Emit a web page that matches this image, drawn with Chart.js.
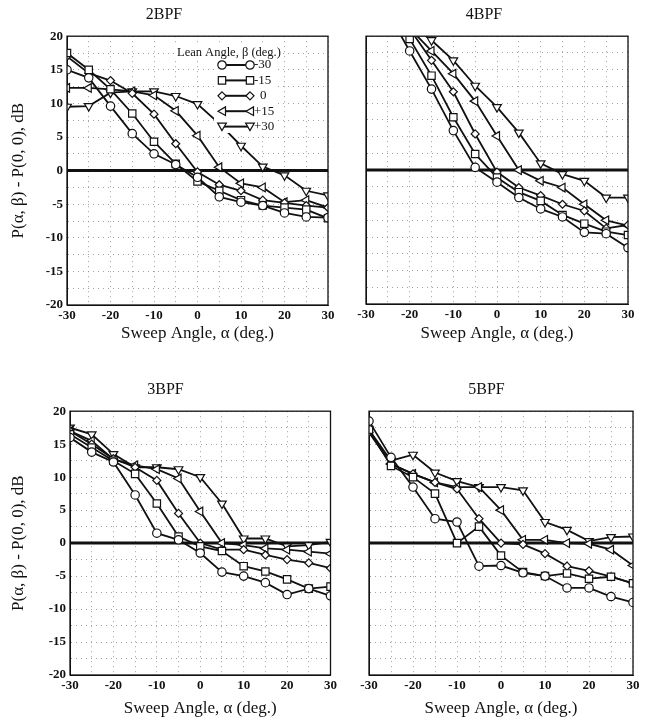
<!DOCTYPE html>
<html>
<head>
<meta charset="utf-8">
<script src="https://cdn.jsdelivr.net/npm/chart.js"></script>
<style>
  body { margin: 0; background: #fff; width: 647px; height: 720px; position: relative; overflow: hidden; }
  canvas { position: absolute; }
</style>
</head>
<body>
<canvas id="bpf2" width="340" height="345" style="left:0;top:0"></canvas>
<canvas id="bpf4" width="307" height="345" style="left:340px;top:0"></canvas>
<canvas id="bpf3" width="340" height="345" style="left:0;top:375px"></canvas>
<canvas id="bpf5" width="307" height="345" style="left:340px;top:375px"></canvas>
<script>
// sweep angle alpha (deg.) and lean angle beta (deg.)
const sweep = [-30, -25, -20, -15, -10, -5, 0, 5, 10, 15, 20, 25, 30];
const leanLabels = ['-30', '-15', '0', '+15', '+30'];

// 2BPF
const bpf2M30 = [15.0, 13.8, 9.6, 5.5, 2.5, 0.9, -1.0, -3.9, -4.7, -5.2, -6.3, -6.9, -7.0];
const bpf2M15 = [17.5, 15.0, 12.1, 8.5, 4.3, 1.0, -1.6, -3.0, -4.4, -5.2, -5.5, -5.8, -7.1];
const bpf2Z   = [17.0, 14.5, 13.4, 11.5, 8.4, 4.0, -0.2, -2.1, -3.0, -4.4, -4.8, -5.2, -5.5];
const bpf2P15 = [12.3, 12.3, 12.1, 11.8, 11.2, 8.9, 5.2, 0.5, -1.9, -2.5, -4.7, -4.4, -5.5];
const bpf2P30 = [9.5, 9.6, 11.6, 11.8, 11.8, 11.1, 9.9, 7.0, 3.7, 0.6, -0.7, -3.0, -3.7];

// 4BPF (first points run off the top of the axis)
const bpf4M30 = [null, 23.5, 17.8, 12.1, 5.9, 0.4, -1.8, -4.1, -5.8, -7.0, -9.3, -9.5, -11.6];
const bpf4M15 = [null, 25.0, 19.6, 14.1, 7.9, 2.4, -1.1, -3.3, -4.6, -6.7, -8.0, -9.2, -9.7];
const bpf4Z   = [null, 25.5, 21.1, 16.4, 11.7, 5.4, -0.3, -2.6, -3.8, -5.1, -6.1, -8.7, -8.2];
const bpf4P15 = [null, 25.0, 21.2, 17.8, 14.4, 10.3, 5.1, 0.0, -1.6, -2.6, -5.1, -7.5, -8.3];
const bpf4P30 = [null, 25.0, 21.8, 19.4, 16.4, 12.6, 9.4, 5.6, 1.0, -0.6, -1.6, -4.1, -4.1];

// 3BPF
const bpf3M30 = [16.0, 13.8, 12.3, 7.3, 1.5, 0.5, -1.5, -4.4, -5.0, -6.0, -7.8, -6.9, -8.0];
const bpf3M15 = [16.5, 14.5, 12.5, 10.5, 6.0, 1.0, -0.5, -1.2, -3.5, -4.3, -5.5, -6.9, -6.6];
const bpf3Z   = [17.0, 15.0, 12.8, 11.5, 9.5, 4.5, 0.0, -1.0, -1.0, -1.8, -2.5, -3.0, -3.8];
const bpf3P15 = [17.0, 15.5, 12.7, 11.8, 11.2, 9.8, 4.8, 0.0, -0.3, -0.8, -1.0, -1.3, -1.6];
const bpf3P30 = [17.5, 16.5, 13.5, 11.5, 11.5, 11.2, 10.0, 6.0, 0.7, 0.7, -0.5, -0.3, 0.2];

// 5BPF
const bpf5M30 = [18.5, 13.0, 8.5, 3.7, 3.2, -3.5, -3.4, -4.5, -5.0, -6.8, -6.8, -8.1, -9.0];
const bpf5M15 = [17.2, 11.7, 10.0, 7.5, 0.0, 2.5, -1.9, -4.4, -5.0, -4.6, -5.4, -5.1, -6.1];
const bpf5Z   = [16.8, 12.0, 10.5, 9.2, 8.2, 3.7, 0.0, -0.2, -1.6, -3.5, -4.2, -5.1, -6.1];
const bpf5P15 = [17.0, 12.0, 10.5, 9.2, 8.5, 8.5, 5.0, 0.5, 0.5, 0.0, -0.1, -1.0, -3.4];
const bpf5P30 = [17.2, 12.5, 13.4, 10.7, 9.4, 8.5, 8.5, 8.0, 3.2, 2.0, 0.3, 0.9, 1.0];

const xTicks = [-30, -20, -10, 0, 10, 20, 30];
const yTicks = [-20, -15, -10, -5, 0, 5, 10, 15, 20];

const ink = '#111';
const serif = 'Liberation Serif';
Chart.defaults.font.family = serif;
Chart.defaults.color = ink;

const markers = [
  { pointStyle: 'circle', radius: 4.2, rotation: 0 },
  { pointStyle: 'rect', radius: 5.2, rotation: 0 },
  { pointStyle: 'rectRot', radius: 4, rotation: 0 },
  { pointStyle: 'triangle', radius: 5, rotation: -90 },
  { pointStyle: 'triangle', radius: 5, rotation: 180 }
];

function drawMarker(ctx, m, x, y) {
  const r = m.radius;
  ctx.save();
  ctx.translate(x, y);
  ctx.rotate(m.rotation * Math.PI / 180);
  ctx.beginPath();
  if (m.pointStyle === 'circle') {
    ctx.arc(0, 0, r, 0, Math.PI * 2);
  } else if (m.pointStyle === 'rect') {
    const s = r * Math.SQRT1_2;
    ctx.rect(-s, -s, 2 * s, 2 * s);
  } else if (m.pointStyle === 'rectRot') {
    ctx.moveTo(0, -r); ctx.lineTo(r, 0); ctx.lineTo(0, r); ctx.lineTo(-r, 0); ctx.closePath();
  } else {
    for (let i = 0; i < 3; i++) {
      const a = i * 2 * Math.PI / 3;
      const px = Math.sin(a) * r, py = -Math.cos(a) * r + r * 0.2;
      if (i === 0) ctx.moveTo(px, py); else ctx.lineTo(px, py);
    }
    ctx.closePath();
  }
  ctx.fillStyle = '#fff';
  ctx.fill();
  ctx.lineWidth = 1.2;
  ctx.strokeStyle = ink;
  ctx.stroke();
  ctx.restore();
}

// frame box and the heavy zero line
const framePlugin = {
  id: 'frame',
  beforeDatasetsDraw(chart) {
    const { ctx, chartArea: a, scales: { y } } = chart;
    const y0 = y.getPixelForValue(0);
    ctx.save();
    ctx.strokeStyle = ink;
    ctx.lineWidth = 3;
    ctx.beginPath();
    ctx.moveTo(a.left, y0);
    ctx.lineTo(a.right, y0);
    ctx.stroke();
    ctx.restore();
  },
  afterDraw(chart) {
    const { ctx, chartArea: a } = chart;
    ctx.save();
    ctx.strokeStyle = ink;
    ctx.lineWidth = 1.3;
    ctx.strokeRect(a.left, a.top, a.right - a.left, a.bottom - a.top);
    ctx.restore();
  }
};

// legend inside the 2BPF panel
const leanLegend = {
  id: 'leanLegend',
  afterDatasetsDraw(chart) {
    if (!chart.options.plugins.leanLegend.show) return;
    const ctx = chart.ctx;
    ctx.save();
    const head = 'Lean Angle, \u03b2 (deg.)';
    ctx.font = '12.5px "' + serif + '"';
    const w = ctx.measureText(head).width;
    ctx.fillStyle = '#fff';
    ctx.fillRect(175, 46, w + 4, 14);
    ctx.fillRect(214, 57, 64, 76);
    ctx.fillStyle = ink;
    ctx.textBaseline = 'middle';
    ctx.fillText(head, 177, 53);
    ctx.font = '13px "' + serif + '"';
    leanLabels.forEach((lab, i) => {
      const yy = 65 + i * 15.4;
      ctx.strokeStyle = ink;
      ctx.lineWidth = 2;
      ctx.beginPath();
      ctx.moveTo(222, yy);
      ctx.lineTo(250, yy);
      ctx.stroke();
      drawMarker(ctx, markers[i], 222, yy);
      drawMarker(ctx, markers[i], 250, yy);
      ctx.fillStyle = ink;
      ctx.fillText(lab, lab === '0' ? 260 : 254, yy);
    });
    ctx.restore();
  }
};

function makePanel(id, title, series, o) {
  new Chart(document.getElementById(id), {
    type: 'line',
    data: {
      datasets: series.map((vals, i) => ({
        label: leanLabels[i],
        data: vals.map((v, k) => ({ x: sweep[k], y: v })),
        borderColor: ink,
        borderWidth: 1.8,
        backgroundColor: '#fff',
        pointBackgroundColor: '#fff',
        pointBorderColor: ink,
        pointBorderWidth: 1.2,
        pointStyle: markers[i].pointStyle,
        pointRadius: markers[i].radius,
        pointRotation: markers[i].rotation,
        tension: 0,
        fill: false
      }))
    },
    options: {
      responsive: false,
      animation: false,
      events: [],
      layout: { padding: { left: 0, right: o.padRight, top: 0, bottom: 0 } },
      plugins: {
        legend: { display: false },
        tooltip: { enabled: false },
        title: {
          display: true,
          text: title,
          font: { family: serif, size: 16, weight: 'normal' },
          color: ink,
          padding: { top: 5, bottom: 12 }
        },
        leanLegend: { show: !!o.legend }
      },
      scales: {
        x: {
          type: 'linear',
          min: -30,
          max: 30,
          afterFit(s) { s.height = o.xHeight; },
          afterBuildTicks(s) {
            s.ticks = [];
            for (let v = -30; v <= 30; v += 5) s.ticks.push({ value: v });
          },
          ticks: {
            font: { family: serif, size: 13, weight: 'bold' },
            color: ink,
            padding: 3,
            maxRotation: 0,
            autoSkip: false,
            callback: v => (xTicks.includes(v) ? String(v) : '')
          },
          grid: { color: '#888', lineWidth: 0.8, drawTicks: false },
          border: { display: true, color: ink, dash: [1, 4] },
          title: {
            display: true,
            text: 'Sweep Angle, \u03b1 (deg.)',
            font: { family: serif, size: 17 },
            color: ink,
            padding: { top: 0, bottom: 1 }
          }
        },
        y: {
          type: 'linear',
          min: -20,
          max: 20,
          afterFit(s) { s.width = o.yWidth; },
          afterBuildTicks(s) {
            s.ticks = [];
            for (let v = -20; v <= 20; v += 2.5) s.ticks.push({ value: v });
          },
          ticks: {
            display: !!o.yLabels,
            font: { family: serif, size: 13, weight: 'bold' },
            color: ink,
            padding: 4,
            autoSkip: false,
            callback: v => (yTicks.includes(v) ? String(v) : '')
          },
          grid: { color: '#888', lineWidth: 0.8, drawTicks: false },
          border: { display: true, color: ink, dash: [1, 4] },
          title: {
            display: !!o.yLabels,
            text: 'P(\u03b1, \u03b2) - P(0, 0), dB',
            font: { family: serif, size: 17 },
            color: ink,
            padding: { top: 8, bottom: 0 }
          }
        }
      }
    },
    plugins: [framePlugin, leanLegend]
  });
}

makePanel('bpf2', '2BPF', [bpf2M30, bpf2M15, bpf2Z, bpf2P15, bpf2P30],
  { yWidth: 67, padRight: 12, xHeight: 40, yLabels: true, legend: true });
makePanel('bpf4', '4BPF', [bpf4M30, bpf4M15, bpf4Z, bpf4P15, bpf4P30],
  { yWidth: 26, padRight: 19, xHeight: 41, yLabels: false });
makePanel('bpf3', '3BPF', [bpf3M30, bpf3M15, bpf3Z, bpf3P15, bpf3P30],
  { yWidth: 70, padRight: 9, xHeight: 45, yLabels: true });
makePanel('bpf5', '5BPF', [bpf5M30, bpf5M15, bpf5Z, bpf5P15, bpf5P30],
  { yWidth: 29, padRight: 14, xHeight: 45, yLabels: false });
</script>
</body>
</html>
